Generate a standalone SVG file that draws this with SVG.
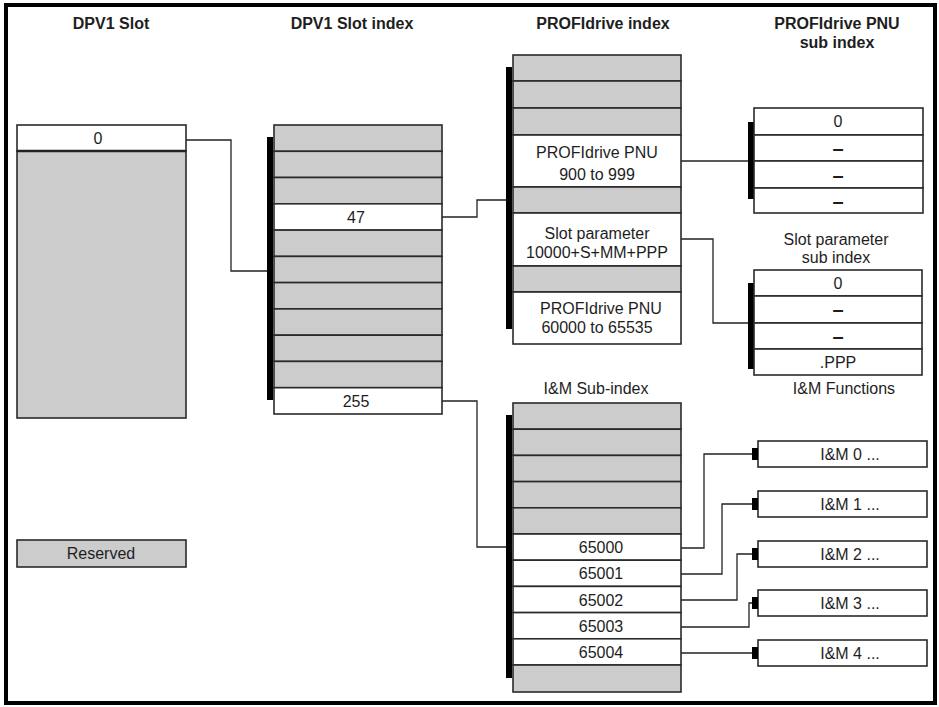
<svg xmlns="http://www.w3.org/2000/svg" width="939" height="707" viewBox="0 0 939 707">
<style>
.t{font-family:"Liberation Sans",Arial,sans-serif;font-size:16px;fill:#1e1e1e;text-anchor:middle}
.b{font-weight:bold}
.g{fill:#cccccc;stroke:#2a2a2a;stroke-width:1.6}
.w{fill:#ffffff;stroke:#2a2a2a;stroke-width:1.6}
.bar{fill:#000}
.c{fill:none;stroke:#222;stroke-width:1.3}
.d{font-weight:bold;font-size:20px}
</style>
<rect x="0" y="0" width="939" height="707" fill="#fff"/>
<rect x="6" y="5" width="929" height="698" fill="none" stroke="#000" stroke-width="4"/>

<g id="titles">
<text class="t b" x="111" y="29">DPV1 Slot</text>
<text class="t b" x="352" y="29">DPV1 Slot index</text>
<text class="t b" x="603" y="29">PROFIdrive index</text>
<text class="t b" x="837" y="29">PROFIdrive PNU</text>
<text class="t b" x="837" y="48">sub index</text>
</g>

<g id="connectors">
<polyline class="c" points="186,140 231,140 231,271 267,271"/>
<polyline class="c" points="442,217 477,217 477,200 506,200"/>
<polyline class="c" points="442,401 477,401 477,547 506,547"/>
<polyline class="c" points="681,161 748,161"/>
<polyline class="c" points="681,239 713,239 713,323 748,323"/>
<polyline class="c" points="681,548 704,548 704,454 752,454"/>
<polyline class="c" points="681,574 722,574 722,504 752,504"/>
<polyline class="c" points="681,600 737,600 737,554 752,554"/>
<polyline class="c" points="681,627 749,627 749,603 752,603"/>
<polyline class="c" points="681,653 752,653"/>
</g>

<g id="dpv1-slot">
<rect class="w" x="17" y="125" width="169" height="26"/>
<rect class="g" x="17" y="151" width="169" height="267"/>
<line x1="17" y1="151" x2="186" y2="151" stroke="#222" stroke-width="2.4"/>
<text class="t" x="98" y="144">0</text>
</g>

<g id="dpv1-slot-index">
<rect class="bar" x="267" y="137" width="6" height="263"/>
<rect class="g" x="274" y="125" width="168" height="26.3"/>
<rect class="g" x="274" y="151.3" width="168" height="26.2"/>
<rect class="g" x="274" y="177.5" width="168" height="26.3"/>
<rect class="w" x="274" y="203.8" width="168" height="26.3"/>
<rect class="g" x="274" y="230.1" width="168" height="26.3"/>
<rect class="g" x="274" y="256.4" width="168" height="26.2"/>
<rect class="g" x="274" y="282.6" width="168" height="26.3"/>
<rect class="g" x="274" y="308.9" width="168" height="26.3"/>
<rect class="g" x="274" y="335.2" width="168" height="26.2"/>
<rect class="g" x="274" y="361.4" width="168" height="26.3"/>
<rect class="w" x="274" y="387.7" width="168" height="26.3"/>
<text class="t" x="356" y="222.5">47</text>
<text class="t" x="356" y="406.5">255</text>
</g>

<g id="profidrive-index">
<rect class="bar" x="506" y="67" width="6" height="262"/>
<rect class="g" x="513" y="55" width="168" height="26"/>
<rect class="g" x="513" y="81" width="168" height="27"/>
<rect class="g" x="513" y="108" width="168" height="27"/>
<rect class="w" x="513" y="135" width="168" height="52"/>
<rect class="g" x="513" y="187" width="168" height="26"/>
<rect class="w" x="513" y="213" width="168" height="53"/>
<rect class="g" x="513" y="266" width="168" height="26"/>
<rect class="w" x="513" y="292" width="168" height="52"/>
<text class="t" x="597" y="157.5">PROFIdrive PNU</text>
<text class="t" x="597" y="179.5">900 to 999</text>
<text class="t" x="597" y="238.5">Slot parameter</text>
<text class="t" x="597" y="257.5">10000+S+MM+PPP</text>
<text class="t" x="601" y="313.5">PROFIdrive PNU</text>
<text class="t" x="597" y="332.5">60000 to 65535</text>
</g>

<g id="pnu-sub-index">
<rect class="bar" x="748" y="122" width="6" height="77"/>
<rect class="w" x="754" y="108" width="169" height="27"/>
<rect class="w" x="754" y="135" width="169" height="26"/>
<rect class="w" x="754" y="161" width="169" height="27"/>
<rect class="w" x="754" y="188" width="169" height="25"/>
<text class="t" x="838" y="127">0</text>
<text class="t d" x="838" y="155">–</text>
<text class="t d" x="838" y="181.5">–</text>
<text class="t d" x="838" y="207.5">–</text>
</g>

<g id="slot-parameter-sub-index">
<text class="t" x="836" y="244.5">Slot parameter</text>
<text class="t" x="836" y="262.5">sub index</text>
<rect class="bar" x="748" y="283" width="6" height="86"/>
<rect class="w" x="754" y="270" width="168" height="26"/>
<rect class="w" x="754" y="296" width="168" height="27"/>
<rect class="w" x="754" y="323" width="168" height="26"/>
<rect class="w" x="754" y="349" width="168" height="26"/>
<text class="t" x="838" y="288.5">0</text>
<text class="t d" x="838" y="316">–</text>
<text class="t d" x="838" y="342.5">–</text>
<text class="t" x="838" y="367.5">.PPP</text>
</g>

<g id="im-sub-index">
<text class="t" x="596" y="393.5">I&amp;M Sub-index</text>
<rect class="bar" x="506" y="415" width="6" height="263"/>
<rect class="g" x="513" y="403" width="168" height="26.2"/>
<rect class="g" x="513" y="429.2" width="168" height="26.2"/>
<rect class="g" x="513" y="455.4" width="168" height="26.2"/>
<rect class="g" x="513" y="481.6" width="168" height="26.2"/>
<rect class="g" x="513" y="507.8" width="168" height="26.2"/>
<rect class="w" x="513" y="534" width="168" height="26.2"/>
<rect class="w" x="513" y="560.2" width="168" height="26.2"/>
<rect class="w" x="513" y="586.4" width="168" height="26.2"/>
<rect class="w" x="513" y="612.6" width="168" height="26.2"/>
<rect class="w" x="513" y="638.8" width="168" height="26.2"/>
<rect class="g" x="513" y="665" width="168" height="27"/>
<text class="t" x="601" y="553">65000</text>
<text class="t" x="601" y="579">65001</text>
<text class="t" x="601" y="605.5">65002</text>
<text class="t" x="601" y="631.5">65003</text>
<text class="t" x="601" y="657.5">65004</text>
</g>

<g id="im-functions">
<text class="t" x="844" y="393.5">I&amp;M Functions</text>
<rect class="w" x="758" y="441" width="169" height="26"/>
<rect class="bar" x="752" y="448" width="6" height="12"/>
<text class="t" x="850" y="459.5">I&amp;M 0 ...</text>
<rect class="w" x="758" y="491" width="169" height="26"/>
<rect class="bar" x="752" y="498" width="6" height="12"/>
<text class="t" x="850" y="509.5">I&amp;M 1 ...</text>
<rect class="w" x="758" y="541" width="169" height="26"/>
<rect class="bar" x="752" y="548" width="6" height="12"/>
<text class="t" x="850" y="559.5">I&amp;M 2 ...</text>
<rect class="w" x="758" y="590" width="169" height="26"/>
<rect class="bar" x="752" y="597" width="6" height="12"/>
<text class="t" x="850" y="608.5">I&amp;M 3 ...</text>
<rect class="w" x="758" y="640" width="169" height="26"/>
<rect class="bar" x="752" y="647" width="6" height="12"/>
<text class="t" x="850" y="658.5">I&amp;M 4 ...</text>
</g>

<g id="legend-reserved">
<rect class="g" x="17" y="540" width="169" height="27"/>
<text class="t" x="101" y="559">Reserved</text>
</g>
</svg>
